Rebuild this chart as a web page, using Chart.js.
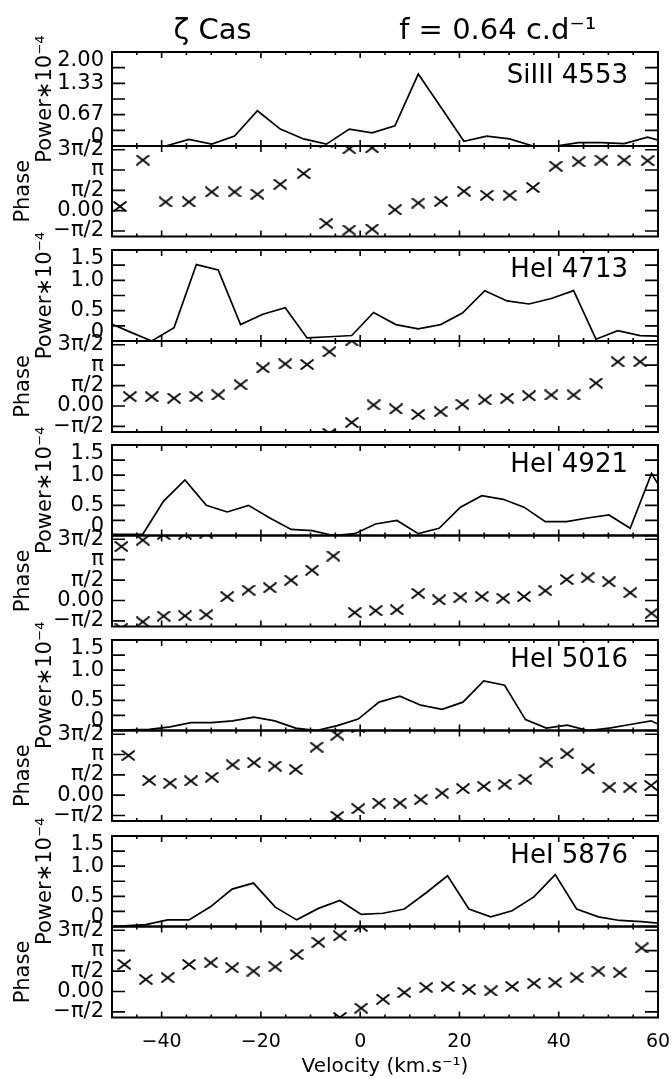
<!DOCTYPE html>
<html>
<head>
<meta charset="utf-8">
<title>zeta Cas power and phase</title>
<script src="https://cdn.jsdelivr.net/npm/chart.js@4.4.1/dist/chart.umd.min.js"></script>
<style>
  html, body { margin: 0; padding: 0; background: #fff; }
  #page { position: relative; width: 672px; height: 1079px; }
  #page canvas { position: absolute; left: 0; top: 0; }
</style>
</head>
<body>
<div id="page"></div>
<script>
// velocity bins (km/s), power (x 1e-4) and phase (rad) per line
var velSi = [-53.0, -48.4, -43.8, -39.2, -34.5, -29.9, -25.3, -20.7, -16.1, -11.4, -6.8, -2.2, 2.4, 7.0, 11.7, 16.3, 20.9, 25.5, 30.1, 34.8, 39.4, 44.0, 48.6, 53.2, 57.9, 62.5];
var powSi = [0.00, 0.00, 0.00, 0.00, 0.14, 0.04, 0.21, 0.75, 0.36, 0.15, 0.04, 0.36, 0.28, 0.43, 1.53, 0.82, 0.10, 0.21, 0.15, 0.00, 0.00, 0.07, 0.07, 0.05, 0.19, 0.05];
var phaSi = [null, 0.33, 3.91, 0.67, 0.67, 1.45, 1.45, 1.27, 2.04, 2.87, -0.98, -1.50, -1.42, 0.07, 0.59, 0.72, 1.50, 1.19, 1.19, 1.79, 3.44, 3.78, 3.91, 3.91, 3.86, null];

var vel4713 = [-50.9, -46.4, -42.0, -37.5, -33.0, -28.6, -24.1, -19.6, -15.1, -10.7, -6.2, -1.7, 2.7, 7.2, 11.7, 16.2, 20.6, 25.1, 29.6, 34.0, 38.5, 43.0, 47.5, 51.9, 56.4, 60.9];
var pow4713 = [0.31, 0.15, 0.00, 0.22, 1.26, 1.17, 0.27, 0.44, 0.55, 0.05, 0.07, 0.09, 0.47, 0.27, 0.20, 0.27, 0.46, 0.83, 0.66, 0.61, 0.70, 0.83, 0.03, 0.17, 0.09, 0.08];
var pha4713 = [0.72, 0.72, 0.72, 0.60, 0.72, 0.85, 1.63, 2.93, 3.24, 3.19, 4.17, -1.27, 0.08, -0.23, -0.65, -0.44, 0.13, 0.47, 0.60, 0.78, 0.85, 0.85, 1.76, 3.40, 3.40, 0.50];

var vel4921 = [-52.4, -48.1, -43.8, -39.6, -35.3, -31.0, -26.8, -22.5, -18.2, -13.9, -9.7, -5.4, -1.1, 3.1, 7.4, 11.7, 15.9, 20.2, 24.5, 28.8, 33.0, 37.3, 41.6, 45.8, 50.1, 54.4, 58.7, 62.9];
var pow4921 = [0.02, 0.02, 0.02, 0.57, 0.92, 0.50, 0.39, 0.50, 0.29, 0.10, 0.08, 0.00, 0.03, 0.19, 0.25, 0.03, 0.12, 0.47, 0.66, 0.60, 0.47, 0.23, 0.23, 0.29, 0.34, 0.12, 1.03, 0.45];
var pha4921 = [null, 4.15, 4.64, -1.20, -1.18, -1.10, 0.29, 0.80, 0.98, 1.56, 2.33, 3.42, -0.93, -0.78, -0.72, 0.55, 0.04, 0.25, 0.30, 0.17, 0.30, 0.75, 1.62, 1.74, 1.43, 0.60, -0.98, null];

var vel5016 = [-50.9, -46.7, -42.5, -38.3, -34.1, -29.9, -25.7, -21.4, -17.2, -13.0, -8.8, -4.6, -0.4, 3.8, 8.0, 12.2, 16.5, 20.7, 24.9, 29.1, 33.3, 37.5, 41.7, 45.9, 50.2, 54.4, 58.6, 62.8];
var pow5016 = [0.00, 0.01, 0.02, 0.06, 0.13, 0.13, 0.16, 0.22, 0.16, 0.04, 0.00, 0.08, 0.19, 0.47, 0.57, 0.42, 0.35, 0.47, 0.82, 0.75, 0.18, 0.04, 0.09, 0.00, 0.04, 0.10, 0.16, 0.00];
var pha5016 = [2.04, 3.07, 1.14, 0.93, 1.10, 1.39, 2.35, 2.51, 2.25, 1.99, 3.71, -1.64, -1.05, -0.61, -0.61, -0.35, 0.16, 0.50, 0.68, 0.84, 1.22, 2.55, 3.20, 2.04, 0.62, 0.62, 0.75, null];

var vel5876 = [-51.8, -47.5, -43.2, -38.8, -34.5, -30.1, -25.8, -21.5, -17.1, -12.8, -8.4, -4.1, 0.2, 4.6, 8.9, 13.3, 17.6, 21.9, 26.3, 30.6, 35.0, 39.3, 43.6, 48.0, 52.3, 56.7, 61.0];
var pow5876 = [0.00, 0.01, 0.03, 0.11, 0.11, 0.33, 0.62, 0.72, 0.32, 0.11, 0.30, 0.43, 0.20, 0.22, 0.29, 0.56, 0.84, 0.29, 0.16, 0.26, 0.49, 0.86, 0.29, 0.16, 0.10, 0.08, 0.05];
var pha5876 = [null, 2.08, 0.93, 1.06, 2.08, 2.21, 1.82, 1.57, 1.90, 2.84, 3.78, 4.28, -1.28, -0.60, -0.08, 0.30, 0.38, 0.17, 0.04, 0.38, 0.63, 0.68, 1.06, 1.57, 1.44, 3.35, null];

// tick values and labels
var xTickVals = [-40, -20, 0, 20, 40, 60];
var powSiTicks = [0, 2 / 3, 4 / 3, 2];
var powSiLabels = [['0', ''], '0.67', '1.33', ['', '2.00']];
var powTicks = [0, 0.5, 1, 1.5];
var powLabels = [['0', ''], '0.5', '1.0', ['', '1.5']];
var phaTicks = [-Math.PI / 2, 0, Math.PI / 2, Math.PI, 3 * Math.PI / 2];
var phaLabels = ['\u2212\u03c0/2', '0.00', '\u03c0/2', '\u03c0', '3\u03c0/2'];

var X_MIN = -50, X_MAX = 60;
var PAGE_W = 672, PAGE_H = 1079, PLOT_L = 112, PLOT_R = 658;
// [power top, power/phase border, phase bottom] for each pair of panels
var ROWS = [[52, 146, 236.5], [250, 341, 432], [445, 535.5, 626.5], [640, 730.5, 821], [836, 926.5, 1017.5]];
var TWO_PI = 2 * Math.PI;

Chart.defaults.font.family = "'DejaVu Sans', 'Liberation Sans', sans-serif";
Chart.defaults.color = '#000';

// IDL style "x" symbol
var crossImg = (function () {
  var w = 14, h = 11, c = document.createElement('canvas');
  c.width = w; c.height = h;
  var g = c.getContext('2d');
  g.strokeStyle = '#000';
  g.lineWidth = 1.9;
  g.beginPath();
  g.moveTo(0.5, 0.5); g.lineTo(w - 0.5, h - 0.5);
  g.moveTo(w - 0.5, 0.5); g.lineTo(0.5, h - 0.5);
  g.stroke();
  return c;
})();

// box with inward ticks on all four sides + line name
var framePlugin = {
  id: 'frame',
  afterDatasetsDraw: function (chart, args, opts) {
    var ctx = chart.ctx, a = chart.chartArea;
    var xs = chart.scales.x, ys = chart.scales.y;
    ctx.save();
    ctx.strokeStyle = '#000';
    ctx.lineWidth = 1.6;
    ctx.beginPath();
    for (var v = X_MIN + 5; v < X_MAX; v += 5) {
      var px = xs.getPixelForValue(v);
      var len = (v % 20 === 0) ? 6 : 3;
      ctx.moveTo(px, a.top); ctx.lineTo(px, a.top + len);
      ctx.moveTo(px, a.bottom); ctx.lineTo(px, a.bottom - len);
    }
    opts.marks.forEach(function (m) {
      var py = ys.getPixelForValue(m);
      ctx.moveTo(a.left, py); ctx.lineTo(a.left + 13, py);
      ctx.moveTo(a.right, py); ctx.lineTo(a.right - 13, py);
    });
    ctx.stroke();
    ctx.lineWidth = 2;
    ctx.strokeRect(a.left, a.top, a.right - a.left, a.bottom - a.top);
    if (opts.label) {
      ctx.fillStyle = '#000';
      ctx.font = "26px 'DejaVu Sans'";
      ctx.textAlign = 'right';
      ctx.textBaseline = 'alphabetic';
      ctx.fillText(opts.label, a.right - 30, a.top + opts.labelDy);
    }
    ctx.restore();
  }
};

function pairs(vel, vals) {
  var out = [];
  vel.forEach(function (v, i) {
    if (vals[i] !== null) out.push({x: v, y: vals[i]});
  });
  return out;
}

// phase is shown together with its copies shifted by 2 pi
function wrapped(vel, pha) {
  var out = [];
  vel.forEach(function (v, i) {
    if (pha[i] === null) return;
    [-TWO_PI, 0, TWO_PI].forEach(function (s) { out.push({x: v, y: pha[i] + s}); });
  });
  return out;
}

function range(a, b, step) {
  var out = [];
  for (var v = a; v <= b + 1e-9; v += step) out.push(v);
  return out;
}

function addChart(cfg) {
  var c = document.createElement('canvas');
  c.width = PAGE_W; c.height = PAGE_H;
  document.getElementById('page').appendChild(c);
  return new Chart(c, cfg);
}

function panelOptions(p) {
  var xScale = {type: 'linear', min: X_MIN, max: X_MAX, display: false};
  if (p.bottomAxis) {
    xScale = {
      type: 'linear', min: X_MIN, max: X_MAX,
      afterFit: function (s) {
        s.height = PAGE_H - p.bottom;
        s.paddingLeft = 0; s.paddingRight = 0;
      },
      afterBuildTicks: function (s) { s.ticks = xTickVals.map(function (v) { return {value: v}; }); },
      grid: {display: false, drawTicks: false},
      border: {display: false},
      ticks: {
        autoSkip: false, maxRotation: 0, minRotation: 0, padding: 13,
        font: {size: 19},
        callback: function (v) { return v < 0 ? '\u2212' + Math.abs(v) : String(v); }
      },
      title: {display: true, text: 'Velocity (km.s\u207b\u00b9)', font: {size: 20}, padding: {top: 0, bottom: 0}}
    };
  }
  return {
    responsive: false,
    animation: false,
    devicePixelRatio: 1,
    events: [],
    layout: {padding: {left: 0, right: PAGE_W - PLOT_R, top: p.padTop, bottom: p.bottomAxis ? 0 : PAGE_H - p.bottom}},
    plugins: {
      legend: {display: false},
      tooltip: {enabled: false},
      title: p.title ? {
        display: true, text: p.title, fullSize: false,
        font: {size: 29, weight: 'normal'},
        padding: {top: 14, bottom: 3.2}
      } : {display: false},
      frame: {marks: p.marks, label: p.label || '', labelDy: p.labelDy || 27}
    },
    scales: {
      x: xScale,
      y: {
        type: 'linear', position: 'left', min: p.yMin, max: p.yMax,
        afterFit: function (s) {
          s.width = PLOT_L;
          s.paddingTop = 0; s.paddingBottom = 0;
        },
        afterBuildTicks: function (s) { s.ticks = p.ticks.map(function (v) { return {value: v}; }); },
        grid: {display: false, drawTicks: false},
        border: {display: false},
        ticks: {
          autoSkip: false, padding: 8,
          font: {size: 21, lineHeight: 0.85},
          callback: function (v, i) { return p.labels[i]; }
        },
        title: {display: true, text: p.yTitle, font: {size: 21}, padding: {top: p.titlePad, bottom: 0}}
      }
    }
  };
}

var lines = [
  {name: 'SiIII 4553', vel: velSi, pow: powSi, pha: phaSi},
  {name: 'HeI 4713', vel: vel4713, pow: pow4713, pha: pha4713},
  {name: 'HeI 4921', vel: vel4921, pow: pow4921, pha: pha4921},
  {name: 'HeI 5016', vel: vel5016, pow: pow5016, pha: pha5016},
  {name: 'HeI 5876', vel: vel5876, pow: pow5876, pha: pha5876}
];

lines.forEach(function (ln, i) {
  var r = ROWS[i];
  var first = (i === 0);
  var last = (i === lines.length - 1);

  addChart({
    type: 'line',
    data: {
      datasets: [{
        data: pairs(ln.vel, ln.pow),
        borderColor: '#000', borderWidth: 1.7,
        pointRadius: 0, tension: 0, fill: false, clip: 0
      }]
    },
    options: panelOptions({
      padTop: first ? 0 : r[0], bottom: r[1],
      title: first ? '\u03b6 Cas                f = 0.64 c.d\u207b\u00b9' : null,
      yMin: 0, yMax: first ? 2 : 1.5,
      ticks: first ? powSiTicks : powTicks,
      labels: first ? powSiLabels : powLabels,
      marks: first ? range(0, 2, 1 / 3) : range(0, 1.5, 0.25),
      yTitle: 'Power\u221710\u207b\u2074', titlePad: 33,
      label: ln.name, labelDy: first ? 31 : 27
    }),
    plugins: [framePlugin]
  });

  addChart({
    type: 'scatter',
    data: {
      datasets: [{
        data: wrapped(ln.vel, ln.pha),
        pointStyle: crossImg, pointRadius: 6, pointHoverRadius: 6,
        showLine: false, clip: 0
      }]
    },
    options: panelOptions({
      padTop: r[1], bottom: r[2], bottomAxis: last,
      yMin: -2, yMax: 5,
      ticks: phaTicks, labels: phaLabels, marks: phaTicks,
      yTitle: 'Phase', titlePad: 11
    }),
    plugins: [framePlugin]
  });
});
</script>
</body>
</html>
